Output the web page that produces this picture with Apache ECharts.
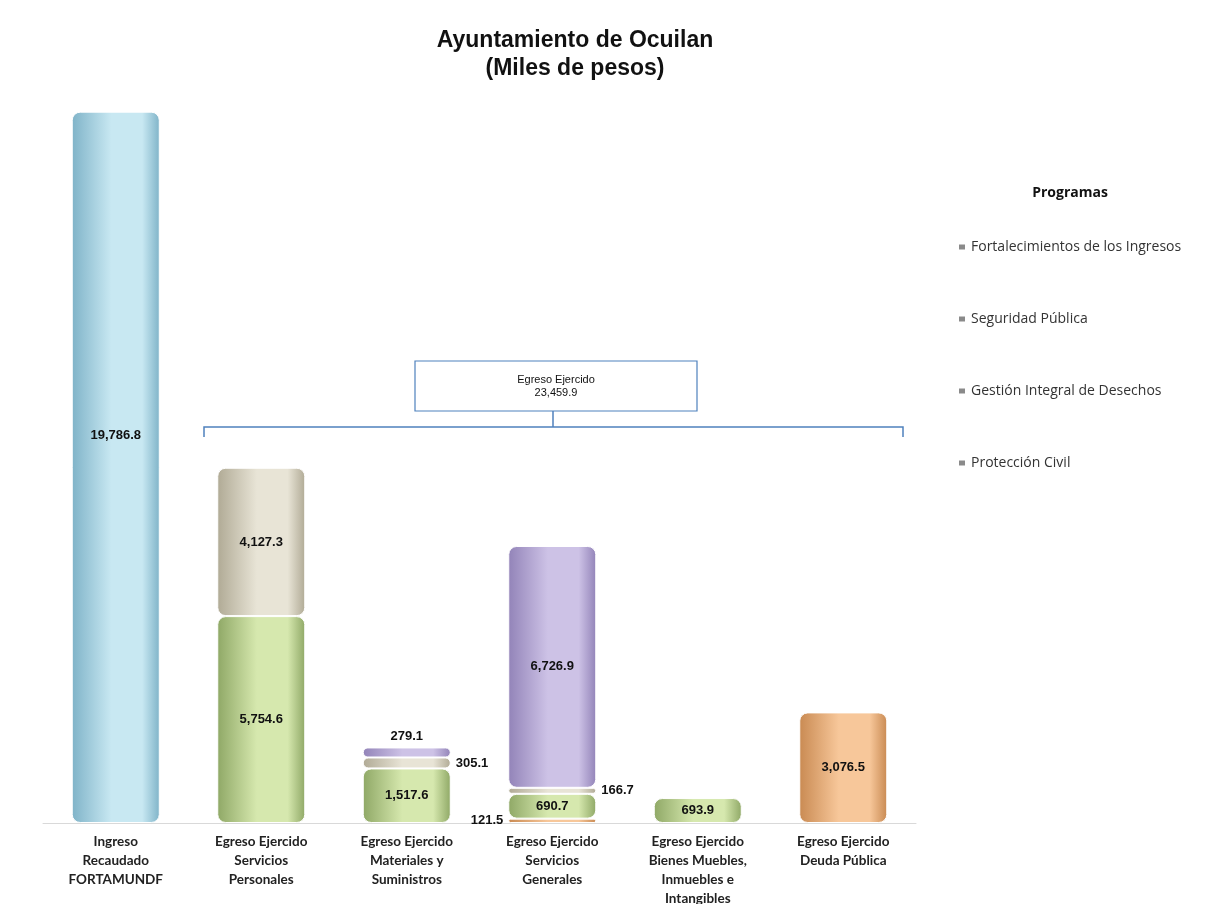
<!DOCTYPE html>
<html>
<head>
<meta charset="utf-8">
<title>Ayuntamiento de Ocuilan</title>
<script src="https://cdn.jsdelivr.net/npm/echarts@6/dist/echarts.min.js"></script>
<style>
  html, body { margin: 0; padding: 0; background: #fff; }
  #chart { width: 1206px; height: 904px; }
</style>
</head>
<body>
<div id="chart"></div>
<script>
  // categorias del eje x
  var categories = [
    'Ingreso\nRecaudado\nFORTAMUNDF',
    'Egreso Ejercido\nServicios\nPersonales',
    'Egreso Ejercido\nMateriales y\nSuministros',
    'Egreso Ejercido\nServicios\nGenerales',
    'Egreso Ejercido\nBienes Muebles,\nInmuebles e\nIntangibles',
    'Egreso Ejercido\nDeuda Pública'
  ];
  var programas = [
    'Fortalecimientos de los Ingresos',
    'Seguridad Pública',
    'Gestión Integral de Desechos',
    'Protección Civil'
  ];
  // miles de pesos
  var ingreso = [19786.8, '-', '-', '-', '-', '-'];
  var naranja = ['-', '-', '-', 121.5, '-', 3076.5];
  var verde = ['-', 5754.6, 1517.6, 690.7, 693.9, '-'];
  var beige = ['-', 4127.3, 305.1, 166.7, '-', '-'];
  var morado = ['-', '-', 279.1, 6726.9, '-', '-'];
  var egresoTotal = 23459.9;

  function fmt(v) {
    return Number(v).toLocaleString('en-US', {minimumFractionDigits: 1, maximumFractionDigits: 1});
  }

  function cyl(dark, light) {
    return new echarts.graphic.LinearGradient(0, 0, 1, 0, [
      {offset: 0, color: dark},
      {offset: 0.45, color: light},
      {offset: 0.8, color: light},
      {offset: 1, color: dark}
    ]);
  }

  // etiquetas fuera de la barra (indice -> posicion)
  var labelPos = {
    beige: {2: 'right', 3: 'right'},
    morado: {2: 'top'},
    naranja: {3: 'left'}
  };
  var labelOffset = {
    ingreso: {0: [0, -32]}
  };

  function build(values, key) {
    return values.map(function (v, i) {
      var pos = labelPos[key] && labelPos[key][i];
      var off = labelOffset[key] && labelOffset[key][i];
      if (v === '-' || (!pos && !off)) return v;
      var lbl = {};
      if (pos) lbl.position = pos;
      if (off) lbl.offset = off;
      return {value: v, label: lbl};
    });
  }

  var labelStyle = {
    show: true,
    position: 'inside',
    fontFamily: 'Liberation Sans, Arial',
    fontWeight: 'bold',
    fontSize: 13,
    color: '#111',
    formatter: function (p) { return fmt(p.value); }
  };

  function serie(name, values, key, dark, light) {
    return {
      name: name,
      type: 'bar',
      stack: 'a',
      barWidth: 88,
      data: build(values, key),
      label: labelStyle,
      itemStyle: {
        color: cyl(dark, light),
        borderRadius: 8,
        borderColor: '#fff',
        borderWidth: 1
      }
    };
  }

  var chart = echarts.init(document.getElementById('chart'));
  chart.setOption({
    backgroundColor: '#fff',
    animation: false,
    title: {
      text: 'Ayuntamiento de Ocuilan\n(Miles de pesos)',
      left: 570,
      textAlign: 'center',
      top: 22,
      textStyle: {
        fontFamily: 'Liberation Sans, Arial',
        fontSize: 23,
        fontWeight: 'bold',
        color: '#111',
        lineHeight: 28
      }
    },
    legend: {
      orient: 'vertical',
      left: 957,
      top: 240,
      padding: 0,
      itemGap: 58,
      itemWidth: 8,
      itemHeight: 7,
      icon: 'rect',
      data: programas.map(function (n) {
        return {name: n, itemStyle: {color: '#8a8a8a'}};
      }),
      textStyle: {fontFamily: 'Open Sans', fontSize: 14, color: '#333'}
    },
    grid: {left: 43, right: 290, top: 104, bottom: 81, outerBoundsMode: 'none', containLabel: false},
    xAxis: {
      type: 'category',
      data: categories,
      axisTick: {show: false},
      axisLine: {lineStyle: {color: '#d9d9d9', width: 1}},
      axisLabel: {
        interval: 0,
        margin: 9,
        fontFamily: 'Lato',
        fontWeight: 'bold',
        fontSize: 13.5,
        lineHeight: 19,
        color: '#222'
      }
    },
    yAxis: {
      type: 'value',
      min: 0,
      max: 20000,
      show: false,
      splitLine: {show: false}
    },
    series: [
      serie('Ingreso Recaudado', ingreso, 'ingreso', '#7fb3c8', '#c8e8f2'),
      serie(programas[3], naranja, 'naranja', '#c98a52', '#f7c79a'),
      serie(programas[0], verde, 'verde', '#8fa866', '#d6e8ae'),
      serie(programas[1], beige, 'beige', '#b0aa95', '#e8e4d6'),
      serie(programas[2], morado, 'morado', '#9283b8', '#cdc2e6')
    ],
    graphic: [
      {
        type: 'rect',
        shape: {x: 415, y: 361, width: 282, height: 50},
        style: {fill: '#fff', stroke: '#4f81bd', lineWidth: 1.2}
      },
      {
        type: 'text',
        x: 556, y: 386,
        style: {
          text: 'Egreso Ejercido\n' + fmt(egresoTotal),
          align: 'center',
          verticalAlign: 'middle',
          fontFamily: 'Liberation Sans, Arial',
          fontSize: 11,
          lineHeight: 13,
          fill: '#111'
        }
      },
      {
        type: 'polyline',
        shape: {points: [[204, 437], [204, 427], [903, 427], [903, 437]]},
        style: {fill: 'none', stroke: '#4f81bd', lineWidth: 1.5}
      },
      {
        type: 'line',
        shape: {x1: 553, y1: 411, x2: 553, y2: 427},
        style: {stroke: '#4f81bd', lineWidth: 1.5}
      },
      {
        type: 'text',
        x: 1070, y: 193,
        style: {
          text: 'Programas',
          align: 'center',
          verticalAlign: 'middle',
          fontFamily: 'Open Sans',
          fontWeight: 'bold',
          fontSize: 14,
          fill: '#111'
        }
      }
    ]
  });
</script>
</body>
</html>
